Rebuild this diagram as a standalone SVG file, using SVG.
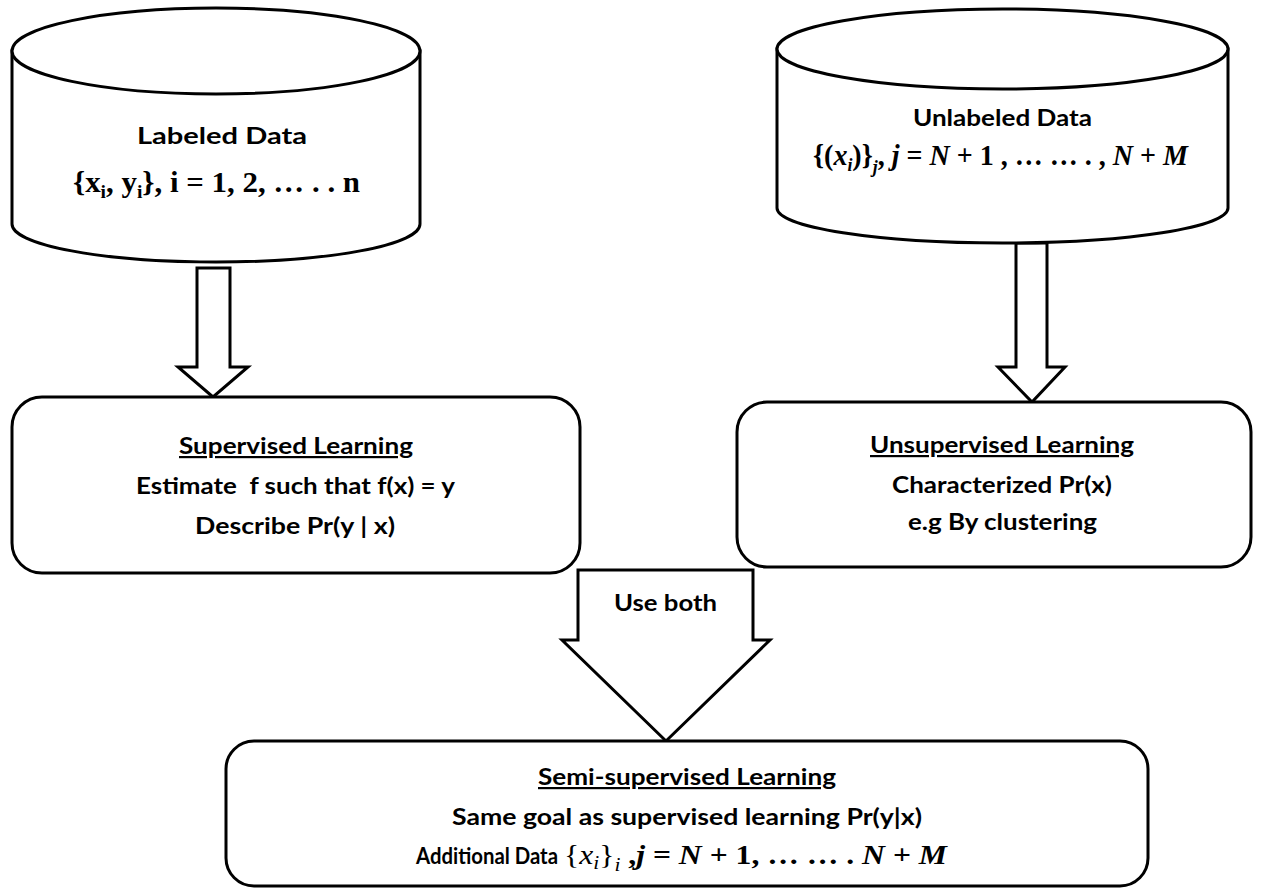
<svg xmlns="http://www.w3.org/2000/svg" width="1262" height="888" viewBox="0 0 1262 888">
<style>
.shape{fill:#fff;stroke:#000;stroke-width:3;stroke-linejoin:miter}
.lbl{font-family:Lato,"Open Sans","Liberation Sans",sans-serif;font-weight:bold;font-size:22px;fill:#000}
.big{font-size:23px}
.ttl{text-decoration:underline}
.math{font-family:"Liberation Serif","DejaVu Serif",serif;font-weight:bold;font-size:30px;fill:#000}
.sm{font-size:28px}
.it{font-style:italic}
.sub{font-size:19px}
</style>
<rect width="1262" height="888" fill="#fff"/>
<g id="connectors">
<polygon class="shape" points="197,268 230,268 230,367 248,367 213,397 178,367 197,367"/>
<polygon class="shape" points="1016,243 1047,243 1047,367 1065,367 1032,402 998,367 1016,367"/>
<polygon class="shape" points="578,570 753,570 753,640 770,640 666,741 562,640 578,640"/>
<text class="lbl" x="614" y="611" textLength="103" lengthAdjust="spacingAndGlyphs">Use both</text>
</g>
<g id="labeled-data">
<path class="shape" d="M12,51 L12,224 A204,38 0 0,0 420,224 L420,51 Z"/>
<ellipse class="shape" cx="216" cy="51" rx="204" ry="43"/>
<text class="lbl big" x="137" y="144" textLength="170" lengthAdjust="spacingAndGlyphs">Labeled Data</text>
<text class="math" x="73" y="192" textLength="287" lengthAdjust="spacingAndGlyphs">{x<tspan class="sub" dy="6">i</tspan><tspan dy="-6">, y</tspan><tspan class="sub" dy="6">i</tspan><tspan dy="-6">}, i = 1, 2, … . . n</tspan></text>
</g>
<g id="unlabeled-data">
<path class="shape" d="M777,49 L777,208 A225.5,35 0 0,0 1228,208 L1228,49 Z"/>
<ellipse class="shape" cx="1002.5" cy="49" rx="225.5" ry="40"/>
<text class="lbl big" x="913" y="126" textLength="179" lengthAdjust="spacingAndGlyphs">Unlabeled Data</text>
<text class="math" x="813" y="165" textLength="375" lengthAdjust="spacingAndGlyphs">{(<tspan class="it">x</tspan><tspan class="it sub" dy="6">i</tspan><tspan dy="-6">)}</tspan><tspan class="it sub" dy="8">j</tspan><tspan dy="-8">, </tspan><tspan class="it">j</tspan> = <tspan class="it">N</tspan> + 1 , … … . , <tspan class="it">N</tspan> + <tspan class="it">M</tspan></text>
</g>
<g id="supervised">
<rect class="shape" x="12" y="397" width="568" height="176" rx="30" ry="30"/>
<text class="lbl ttl" x="179" y="454" textLength="234" lengthAdjust="spacingAndGlyphs">Supervised Learning</text>
<text class="lbl" x="136" y="494" textLength="319" lengthAdjust="spacingAndGlyphs" xml:space="preserve">Estimate  f such that f(x) = y</text>
<text class="lbl" x="195" y="534" textLength="200" lengthAdjust="spacingAndGlyphs">Describe Pr(y | x)</text>
</g>
<g id="unsupervised">
<rect class="shape" x="737" y="402" width="514" height="165" rx="30" ry="30"/>
<text class="lbl ttl" x="870" y="453" textLength="264" lengthAdjust="spacingAndGlyphs">Unsupervised Learning</text>
<text class="lbl" x="892" y="493" textLength="220" lengthAdjust="spacingAndGlyphs">Characterized Pr(x)</text>
<text class="lbl" x="908" y="530" textLength="189" lengthAdjust="spacingAndGlyphs">e.g By clustering</text>
</g>
<g id="semi-supervised">
<rect class="shape" x="226" y="741" width="922" height="145" rx="28" ry="28"/>
<text class="lbl ttl" x="538" y="785" textLength="298" lengthAdjust="spacingAndGlyphs">Semi-supervised Learning</text>
<text class="lbl" x="452" y="825" textLength="470" lengthAdjust="spacingAndGlyphs">Same goal as supervised learning Pr(y|x)</text>
<text class="lbl" x="416" y="864" textLength="142" lengthAdjust="spacingAndGlyphs">Additional Data</text>
<text class="math sm" x="564" y="864" textLength="383" lengthAdjust="spacingAndGlyphs"><tspan font-weight="normal">{<tspan class="it">x</tspan><tspan class="it sub" dy="5">i</tspan><tspan dy="-5">}</tspan><tspan class="it sub" dy="7">i</tspan></tspan><tspan dy="-7"> ,</tspan><tspan class="it">j</tspan> = <tspan class="it">N</tspan> + 1, … … . <tspan class="it">N</tspan> + <tspan class="it">M</tspan></text>
</g>
</svg>
